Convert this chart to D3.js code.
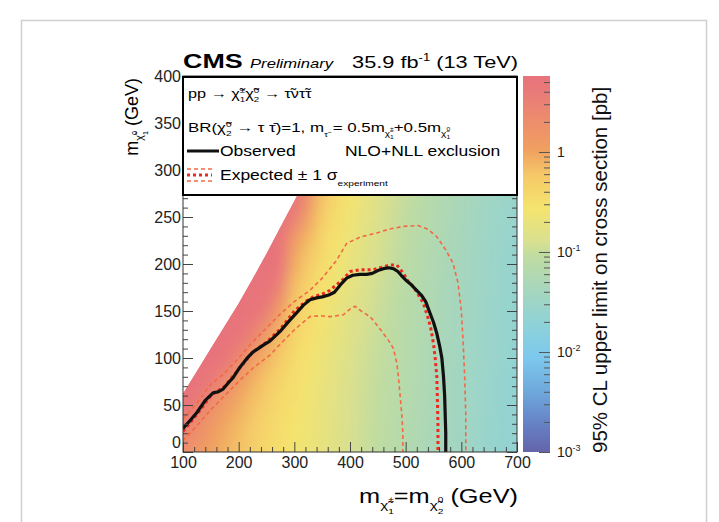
<!DOCTYPE html>
<html><head><meta charset="utf-8">
<script src="https://cdn.jsdelivr.net/npm/d3@7"></script>
<style>
body{margin:0;background:#fff;}
svg{display:block;font-family:"Liberation Sans",Arial,Helvetica,sans-serif;}
</style></head><body>
<svg id="c" width="719" height="522"></svg>
<script>
// ---------------- data ----------------
// grid of the limit map: chargino mass (columns) x LSP mass (rows)
const mChargino = [100,125,150,175,200,225,250,275,300,325,350,375,400,425,450,475,500,525,550,575,600,625,650,675,700];
const mLSP = [0,25,50,75,100,125,150,175,200,225,250,275];
// log10 of the 95% CL upper limit [pb], one list per chargino mass, LSP mass ascending
const limitLog10 = [
 [0.3,0.5,0.8,0.9],
 [0.15,0.3,0.55,0.85,0.9],
 [0.02,0.12,0.3,0.65,0.9,0.9],
 [-0.1,-0.03,0.1,0.35,0.75,0.9,0.9],
 [-0.2,-0.15,-0.05,0.1,0.4,0.85,0.9,0.9],
 [-0.3,-0.27,-0.2,-0.08,0.12,0.5,0.9,0.9,0.9],
 [-0.42,-0.39,-0.33,-0.24,-0.1,0.1,0.55,0.9,0.9,0.9],
 [-0.5,-0.48,-0.44,-0.38,-0.28,-0.15,0.05,0.5,0.85,0.9,0.9],
 [-0.57,-0.56,-0.53,-0.49,-0.44,-0.37,-0.28,-0.18,-0.05,0.1,0.6,0.9],
 [-0.65,-0.64,-0.62,-0.59,-0.55,-0.5,-0.44,-0.37,-0.28,-0.15,0.02,0.35],
 [-0.73,-0.72,-0.71,-0.69,-0.66,-0.62,-0.57,-0.52,-0.46,-0.39,-0.3,-0.2],
 [-0.82,-0.81,-0.8,-0.78,-0.76,-0.73,-0.69,-0.65,-0.6,-0.55,-0.48,-0.42],
 [-0.9,-0.89,-0.88,-0.87,-0.85,-0.82,-0.79,-0.75,-0.71,-0.67,-0.62,-0.57],
 [-0.98,-0.97,-0.96,-0.95,-0.93,-0.91,-0.88,-0.85,-0.82,-0.78,-0.74,-0.7],
 [-1.05,-1.04,-1.03,-1.02,-1.01,-0.99,-0.97,-0.94,-0.91,-0.88,-0.85,-0.82],
 [-1.12,-1.11,-1.1,-1.09,-1.08,-1.07,-1.05,-1.03,-1.0,-0.98,-0.95,-0.92],
 [-1.2,-1.19,-1.18,-1.17,-1.16,-1.15,-1.13,-1.11,-1.09,-1.07,-1.04,-1.01],
 [-1.27,-1.26,-1.25,-1.24,-1.23,-1.22,-1.21,-1.19,-1.17,-1.15,-1.13,-1.1],
 [-1.34,-1.33,-1.32,-1.31,-1.3,-1.29,-1.28,-1.26,-1.25,-1.23,-1.21,-1.19],
 [-1.4,-1.39,-1.38,-1.38,-1.37,-1.36,-1.35,-1.33,-1.32,-1.3,-1.28,-1.26],
 [-1.46,-1.45,-1.44,-1.44,-1.43,-1.42,-1.41,-1.4,-1.38,-1.37,-1.35,-1.33],
 [-1.52,-1.51,-1.5,-1.5,-1.49,-1.48,-1.47,-1.46,-1.45,-1.43,-1.42,-1.4],
 [-1.58,-1.57,-1.56,-1.56,-1.55,-1.54,-1.53,-1.52,-1.51,-1.5,-1.48,-1.46],
 [-1.63,-1.62,-1.62,-1.61,-1.6,-1.6,-1.59,-1.58,-1.57,-1.56,-1.54,-1.52],
 [-1.68,-1.67,-1.67,-1.66,-1.66,-1.65,-1.64,-1.63,-1.62,-1.61,-1.59,-1.57]
];
// upper edge of the scanned region (LSP mass) per chargino mass
const hullX = [100,125,150,175,200,225,250,275,300,325,350];
const hullY = [62,86,110,134,158,184,211,239,267,295,323];

const observed = [[100,25],[112,33],[125,42],[140,55],[154,63],[163,64],[172,67],[182,74],[190,79],[202,90],[214,99],[225,106],[235,110],[245,114],[256,118],[265,123],[274,128],[290,139],[304,148],[316,156],[328,162],[340,164],[350,165],[362,167],[372,170],[383,178],[394,185],[405,188],[418,189],[430,189],[440,190],[450,193],[460,195],[470,196],[478,195],[486,192],[492,188],[500,183],[508,179],[518,173],[528,167],[536,160],[543,149],[550,138],[556,126],[561,113],[565,100],[568,80],[570,60],[571,40],[572,20],[572,0]];
const expected = [[100,22],[125,40],[150,60],[175,70],[200,88],[225,106],[250,117],[275,131],[300,150],[320,160],[334,165],[350,168],[364,172],[376,178],[388,184],[400,192],[420,194],[442,194],[460,197],[472,199],[484,199],[496,190],[505,181],[514,176],[523,167],[532,158],[540,143],[545,132],[550,115],[553,100],[556,80],[557,55],[558,30],[558,0]];
const expectedUp = [[100,35],[125,52],[150,72],[175,84],[200,100],[225,117],[250,132],[275,147],[300,160],[328,172],[350,185],[376,204],[394,222],[420,229],[448,233],[470,237],[495,240],[522,241],[540,237],[556,229],[572,215],[585,201],[594,180],[600,150],[603,120],[606,80],[608,40],[608,0]];
const expectedDown = [[100,12],[125,28],[150,45],[175,60],[200,75],[225,89],[256,103],[275,115],[300,130],[328,144],[346,145],[364,144],[388,146],[400,152],[409,155],[420,150],[436,144],[450,134],[460,126],[470,118],[478,110],[484,95],[487,80],[490,60],[493,40],[495,20],[495,0]];

const xTicks = [100,200,300,400,500,600,700];
const yTicks = [0,50,100,150,200,250,300,350,400];
const zTicks = [0.001,0.01,0.1,1];
const zTickBase = ["10","10","10","1"];
const zTickExp = ["-3","-2","-1",""];
// colour palette (log10 value -> colour)
const paletteL = [-3,-2.73,-2.4,-2.06,-1.73,-1.4,-1.03,-0.9,-0.56,-0.23,0.02,0.3,0.57,0.76];
const paletteC = ["#6464aa","#6680c4","#6ea8dc","#7cc8ee","#8ed2d8","#a5d6bf","#c0dca0","#d8e090","#f5e46e","#f5c868","#f0a060","#ed8e6c","#e97c78","#e8737b"];

// ---------------- drawing ----------------
const svg = d3.select("#c");
const FONT = '"Liberation Sans",Arial,Helvetica,sans-serif';
const x = d3.scaleLinear().domain([100,700]).range([183,517]);
const y = d3.scaleLinear().domain([0,400]).range([452,76]);
const zAxisScale = d3.scaleLog().domain([1e-3, 5.75]).range([452,76]);
const col = d3.scaleLinear().domain(paletteL).range(paletteC).interpolate(d3.interpolateRgb).clamp(true);

// outer page border
svg.append("rect").attr("x",21.5).attr("y",20.5).attr("width",685).attr("height",530)
  .attr("fill","none").attr("stroke","#cfcfcf").attr("stroke-width",1.5);

const defs = svg.append("defs");
defs.append("clipPath").attr("id","frameClip").append("rect")
  .attr("x",x(100)).attr("y",y(400)).attr("width",x(700)-x(100)).attr("height",y(0)-y(400));
const hullPts = [[100,0],[700,0],[700,hullY[hullY.length-1]]].concat(hullX.map((h,i)=>[h,hullY[i]]).reverse());
defs.append("clipPath").attr("id","hullClip").append("path")
  .attr("d", "M" + hullPts.map(p=>x(p[0])+","+y(p[1])).join("L") + "Z");
const flt = defs.append("filter").attr("id","soft").attr("x","-10%").attr("y","-10%").attr("width","120%").attr("height","120%");
flt.append("feGaussianBlur").attr("stdDeviation","7 10");

// cells
const cells = [];
limitLog10.forEach((colVals,i)=>{
  colVals.forEach((v,j)=>{
    let x0 = mChargino[i]-12.5, x1 = mChargino[i]+12.5, y0 = mLSP[j]-12.5, y1 = mLSP[j]+12.5;
    if (i===0) x0 -= 40;
    if (i===mChargino.length-1) x1 += 40;
    if (j===0) y0 -= 40;
    if (j===mLSP.length-1) y1 += 40;
    cells.push({x0,x1,y0,y1,v});
  });
});
const heatOuter = svg.append("g").attr("clip-path","url(#frameClip)");
const heat = heatOuter.append("g").attr("clip-path","url(#hullClip)");
function drawCells(g){
  g.selectAll("rect").data(cells).join("rect")
    .attr("x",d=>x(d.x0)).attr("y",d=>y(d.y1))
    .attr("width",d=>x(d.x1)-x(d.x0)+0.6).attr("height",d=>y(d.y0)-y(d.y1)+0.6)
    .attr("fill",d=>col(d.v));
}
drawCells(heat.append("g"));
drawCells(heat.append("g").attr("filter","url(#soft)"));

// contours
const line = d3.line().x(d=>x(d[0])).y(d=>y(d[1]));
const lines = svg.append("g").attr("clip-path","url(#frameClip)");
[expectedUp, expectedDown].forEach(s=>{
  lines.append("path").attr("d",line(s)).attr("fill","none")
    .attr("stroke","#f26a45").attr("stroke-width",1.6).attr("stroke-dasharray","4,3");
});
lines.append("path").attr("d",line(expected)).attr("fill","none")
  .attr("stroke","#ee2a1e").attr("stroke-width",3).attr("stroke-dasharray","3,3");
lines.append("path").attr("d",line(observed)).attr("fill","none")
  .attr("stroke","#111").attr("stroke-width",3.2).attr("stroke-linejoin","round");

// frame and ticks
const axG = svg.append("g").attr("font-family",FONT);
function minorRange(a,b,s){ return d3.range(a,b+0.001,s); }
const xMinor = minorRange(100,700,20).filter(v=>xTicks.indexOf(v)<0);
const yMinor = minorRange(0,400,10).filter(v=>yTicks.indexOf(v)<0);
const tickCol = "#444";
// bottom
axG.append("g").attr("transform",`translate(0,${y(0)})`)
  .call(d3.axisBottom(x).tickValues(xTicks).tickSize(-10).tickPadding(5).tickFormat(d3.format("d")))
  .call(g=>{g.select(".domain").remove(); g.selectAll("line").attr("stroke",tickCol); g.selectAll("text").attr("font-size",16).attr("fill","#222");});
axG.append("g").attr("transform",`translate(0,${y(0)})`)
  .call(d3.axisBottom(x).tickValues(xMinor).tickSize(-5).tickFormat(""))
  .call(g=>{g.select(".domain").remove(); g.selectAll("line").attr("stroke",tickCol);});
// left
axG.append("g").attr("transform",`translate(${x(100)},0)`)
  .call(d3.axisLeft(y).tickValues(yTicks).tickSize(-10).tickPadding(2).tickFormat(d3.format("d")))
  .call(g=>{g.select(".domain").remove(); g.selectAll("line").attr("stroke",tickCol);
    g.selectAll("text").attr("font-size",16).attr("fill","#222");
    g.selectAll("text").filter(d=>d===0).attr("dy","-0.3em");});
axG.append("g").attr("transform",`translate(${x(100)},0)`)
  .call(d3.axisLeft(y).tickValues(yMinor).tickSize(-5).tickFormat(""))
  .call(g=>{g.select(".domain").remove(); g.selectAll("line").attr("stroke",tickCol);});
// right
axG.append("g").attr("transform",`translate(${x(700)},0)`)
  .call(d3.axisRight(y).tickValues(yTicks).tickSize(-10).tickFormat(""))
  .call(g=>{g.select(".domain").remove(); g.selectAll("line").attr("stroke",tickCol);});
axG.append("g").attr("transform",`translate(${x(700)},0)`)
  .call(d3.axisRight(y).tickValues(yMinor).tickSize(-5).tickFormat(""))
  .call(g=>{g.select(".domain").remove(); g.selectAll("line").attr("stroke",tickCol);});
svg.append("rect").attr("x",x(100)).attr("y",y(400)).attr("width",x(700)-x(100)).attr("height",y(0)-y(400))
  .attr("fill","none").attr("stroke","#333").attr("stroke-width",1);

// rich text helper
function rich(sel, parts, fs){
  let cur = 0, prev = null;
  parts.forEach(p=>{
    const off = (p.y||0)*fs, size = (p.s||1)*fs;
    const ts = sel.append("tspan").attr("font-size",size).attr("dy",off-cur).text(p.t);
    if (p.stack && prev) ts.attr("dx", -prev.node().getComputedTextLength());
    cur = off; prev = ts;
  });
}
function stext(px,py,sx,fs,anchor){
  return svg.append("text").attr("transform",`translate(${px},${py}) scale(${sx},1)`)
    .attr("font-family",FONT).attr("font-size",fs).attr("text-anchor",anchor||"start").attr("fill","#000");
}

// legend box
svg.append("rect").attr("x",x(100)).attr("y",77).attr("width",x(700)-x(100)).attr("height",118)
  .attr("fill","#fff").attr("stroke","#000").attr("stroke-width",2);
rich(stext(188,98,1.25,13), [{t:"pp → χ̃"},{t:"1",y:0.3,s:0.6},{t:"±",y:-0.4,s:0.6,stack:true},{t:"χ̃"},{t:"2",y:0.3,s:0.6},{t:"0",y:-0.4,s:0.6,stack:true},{t:" → τ̃ντ̃τ"}],13);
rich(stext(188,132,1.25,13.5), [{t:"BR(χ̃"},{t:"2",y:0.3,s:0.6},{t:"0",y:-0.4,s:0.6,stack:true},{t:" → τ τ̄)=1, m"},{t:"τ̃",y:0.35,s:0.6},{t:" = 0.5m"},{t:"χ̃",y:0.3,s:0.6},{t:"1",y:0.55,s:0.4},{t:"±",y:-0.05,s:0.4,stack:true},{t:"+0.5m"},{t:"χ̃",y:0.3,s:0.6},{t:"1",y:0.55,s:0.4},{t:"0",y:-0.05,s:0.4,stack:true}],13.5);
svg.append("line").attr("x1",187).attr("x2",219).attr("y1",151).attr("y2",151).attr("stroke","#111").attr("stroke-width",3);
stext(220,156,1.25,14).text("Observed");
stext(345,156,1.25,14).text("NLO+NLL exclusion");
[[169,1.6,"#f26a45","4,3"],[175,3,"#ee2a1e","3,3"],[181,1.6,"#f26a45","4,3"]].forEach(s=>{
  svg.append("line").attr("x1",187).attr("x2",212).attr("y1",s[0]).attr("y2",s[0])
    .attr("stroke",s[2]).attr("stroke-width",s[1]).attr("stroke-dasharray",s[3]);
});
rich(stext(220,180,1.25,14), [{t:"Expected ± 1 σ"},{t:"experiment",y:0.4,s:0.58}],14);

// header
stext(183,68,1.28,21).attr("font-weight","bold").text("CMS");
stext(250,68,1.28,13).attr("font-style","italic").text("Preliminary");
rich(stext(518,68,1.28,17,"end"), [{t:"35.9 fb"},{t:"-1",y:-0.4,s:0.6},{t:" (13 TeV)",y:0}],17);

// axis titles
rich(stext(518,503,1.3,19.5,"end"), [{t:"m"},{t:"χ̃",y:0.3,s:0.6},{t:"1",y:0.55,s:0.4},{t:"±",y:-0.05,s:0.4,stack:true},{t:"=m",y:0},{t:"χ̃",y:0.3,s:0.6},{t:"2",y:0.55,s:0.4},{t:"0",y:-0.05,s:0.4,stack:true},{t:" (GeV)",y:0}],19.5);
const yt = svg.append("text").attr("transform","translate(138,78) rotate(-90)")
  .attr("font-family",FONT).attr("font-size",18).attr("text-anchor","end");
rich(yt, [{t:"m"},{t:"χ̃",y:0.3,s:0.6},{t:"1",y:0.55,s:0.4},{t:"0",y:-0.05,s:0.4,stack:true},{t:" (GeV)",y:0}],18);

// colour bar
const grad = defs.append("linearGradient").attr("id","cbar").attr("x1",0).attr("x2",0).attr("y1",1).attr("y2",0);
const lMin = -3, lMax = Math.log10(5.75);
paletteL.forEach((l,i)=>{
  grad.append("stop").attr("offset",(l-lMin)/(lMax-lMin)).attr("stop-color",paletteC[i]);
});
svg.append("rect").attr("x",523).attr("y",zAxisScale(5.75)).attr("width",27).attr("height",zAxisScale(1e-3)-zAxisScale(5.75))
  .attr("fill","url(#cbar)");
const zMinor = [];
[1e-3,1e-2,1e-1,1].forEach(b=>{ for(let k=2;k<=9;k++){ const v=b*k; if (v<=5.75) zMinor.push(v);} });
svg.append("g").attr("transform","translate(550,0)")
  .call(d3.axisLeft(zAxisScale).tickValues(zTicks).tickSize(11).tickFormat(""))
  .call(g=>{g.select(".domain").remove(); g.selectAll("line").attr("stroke","#555");});
svg.append("g").attr("transform","translate(550,0)")
  .call(d3.axisLeft(zAxisScale).tickValues(zMinor).tickSize(6).tickFormat(""))
  .call(g=>{g.select(".domain").remove(); g.selectAll("line").attr("stroke","#555");});
zTicks.forEach((v,i)=>{
  const t = svg.append("text").attr("x",557).attr("y",zAxisScale(v)+5)
    .attr("font-family",FONT).attr("font-size",14).attr("fill","#222");
  t.append("tspan").text(zTickBase[i]);
  if (zTickExp[i]) t.append("tspan").attr("font-size",9).attr("dy",-6).text(zTickExp[i]);
});
svg.append("text").attr("transform","translate(607,453) rotate(-90)")
  .attr("font-family",FONT).attr("font-size",20.5).attr("fill","#111")
  .text("95% CL upper limit on cross section [pb]");
</script>
</body></html>
